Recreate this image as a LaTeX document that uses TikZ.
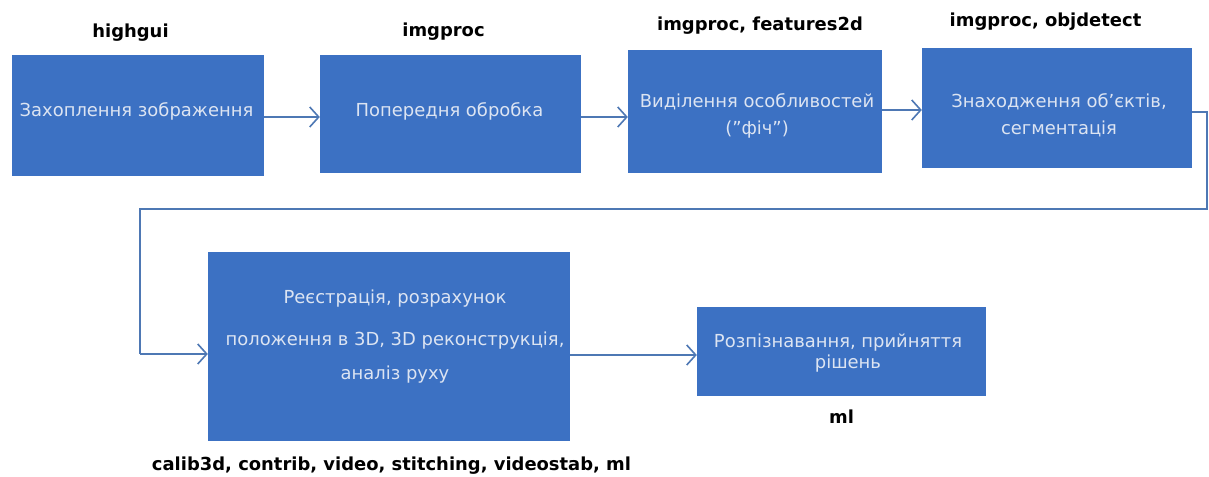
\documentclass[tikz,border=0pt]{standalone}
\usepackage{fontspec}
\setmainfont{DejaVu Sans}
\usetikzlibrary{arrows.meta}
\definecolor{boxblue}{HTML}{3C71C3}
\definecolor{boxtext}{HTML}{DCE4F2}
\definecolor{linkblue}{HTML}{4E78B4}
\tikzset{
  stage/.style={fill=boxblue, draw=none, inner sep=0pt},
  stagetext/.style={text=boxtext, font=\fontsize{18}{20}\selectfont, align=center, inner sep=0pt, anchor=base},
  modlabel/.style={text=black, font=\bfseries\fontsize{18}{20}\selectfont, inner sep=0pt, anchor=base},
  link/.style={draw=linkblue, line width=1.6bp, -{Straight Barb[length=9bp, width=20bp, line width=1.6bp]}},
  wire/.style={draw=linkblue, line width=1.6bp}
}
\begin{document}
\begin{tikzpicture}[x=1bp, y=-1bp]
  \useasboundingbox[fill=white] (0,0) rectangle (1209,477);

  % processing stages
  \node[stage, minimum width=252bp, minimum height=121bp] (b1) at (138,115.5) {};
  \node[stage, minimum width=261bp, minimum height=118bp] (b2) at (450.5,114) {};
  \node[stage, minimum width=254bp, minimum height=123bp] (b3) at (755,111.5) {};
  \node[stage, minimum width=270bp, minimum height=120bp] (b4) at (1057,108) {};
  \node[stage, minimum width=362bp, minimum height=189bp] (b5) at (389,346.5) {};
  \node[stage, minimum width=289bp, minimum height=89bp] (b6) at (841.5,351.5) {};

  % stage captions (anchored at the baseline of the last line)
  \node[stagetext] (t1) at (136.5,117) {Захоплення зображення};
  \node[stagetext] (t2) at (449.5,117) {Попередня обробка};
  \node[stagetext, font=\fontsize{18}{28}\selectfont] (t3) at (757,135) {Виділення особливостей\\(”фіч”)};
  \node[stagetext, font=\fontsize{18}{28}\selectfont] (t4) at (1059,135) {Знаходження об’єктів,\\сегментація};
  \node[stagetext, font=\fontsize{18}{42}\selectfont] (t5) at (395,380) {Реєстрація, розрахунок\\положення в 3D, 3D реконструкція,\\[-7bp]аналіз руху};
  \node[stagetext, font=\fontsize{18}{22}\selectfont] (t6) at (838,369) {Розпізнавання, прийняття\\\hphantom{ii}\hphantom{ii}рішень};

  % OpenCV modules
  \node[modlabel] (m1) at (130.5,38) {highgui};
  \node[modlabel] (m2) at (443.5,37) {imgproc};
  \node[modlabel] (m3) at (760,31) {imgproc, features2d};
  \node[modlabel] (m4) at (1045.5,27) {imgproc, objdetect};
  \node[modlabel] (m5) at (391.5,470) {calib3d, contrib, video, stitching, videostab, ml};
  \node[modlabel] (m6) at (841.5,423) {ml};

  % flow
  \coordinate (r1) at (0,117);
  \coordinate (r2) at (0,110);
  \draw[link] (b1.east |- r1) -- (b2.west |- r1);
  \draw[link] (b2.east |- r1) -- (b3.west |- r1);
  \draw[link] (b3.east |- r2) -- (b4.west |- r2);

  \coordinate (c1) at (1207,112);
  \coordinate (c2) at (1207,209);
  \coordinate (c3) at (140,209);
  \coordinate (c4) at (140,354);
  \draw[wire] (b4.east |- c1) -- (c1) -- (c2) -- (c3) -- (c4);
  \draw[link] (c4) -- (b5.west |- c4);

  \coordinate (r3) at (0,355);
  \draw[link] (b5.east |- r3) -- (b6.west |- r3);
\end{tikzpicture}
\end{document}
